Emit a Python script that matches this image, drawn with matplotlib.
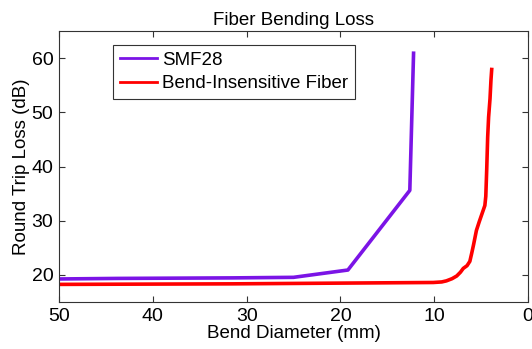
import matplotlib
matplotlib.use("Agg")
import matplotlib.pyplot as plt

# SMF28 standard fiber
smf_d = [50, 43.8, 31.5, 25.0, 19.2, 12.6, 12.2]
smf_loss = [19.25, 19.35, 19.45, 19.55, 20.9, 35.6, 60.9]

# bend-insensitive fiber
bif_d = [50, 31.5, 10.1, 9.2, 8.7, 8.1, 7.6, 7.2, 6.9, 6.5, 6.2, 6.0, 5.8,
         5.5, 5.2, 4.9, 4.6, 4.5, 4.4, 4.3, 4.2, 4.05, 3.95, 3.87]
bif_loss = [18.25, 18.35, 18.6, 18.7, 18.9, 19.3, 19.8, 20.5, 21.2, 21.7,
            22.5, 24.0, 25.6, 28.2, 29.8, 31.3, 32.8, 34.5, 39.5, 45.4,
            49.1, 52.5, 55.9, 57.9]

xticks = [50, 40, 30, 20, 10, 0]
yticks = [20, 30, 40, 50, 60]

plt.rcParams['font.family'] = ['Liberation Sans', 'DejaVu Sans']

fig = plt.figure(figsize=(5.32, 3.49), dpi=100)
ax = fig.add_axes([59 / 532, 1 - 302 / 349, 469 / 532, 271 / 349])

ax.plot(smf_d, smf_loss, color='#7b14e6', lw=2.6, label='SMF28')
ax.plot(bif_d, bif_loss, color='#ff0000', lw=2.6, label='Bend-Insensitive Fiber')

ax.set_xlim(50, 0)
ax.set_ylim(15, 65)
ax.set_xticks(xticks)
ax.set_yticks(yticks)
ax.tick_params(direction='in', length=4, labelsize=14, top=True, right=True,
               width=0.8, color='#333333', pad=4)
for s in ax.spines.values():
    s.set_linewidth(0.8)
    s.set_color('#333333')

ax.set_title('Fiber Bending Loss', fontsize=13.5, pad=4)
ax.set_xlabel('Bend Diameter (mm)', fontsize=13.5, labelpad=0)
ax.set_ylabel('Round Trip Loss (dB)', fontsize=13.5, labelpad=1)

leg = ax.legend(loc='upper left', bbox_to_anchor=(0.115, 0.948), fontsize=13.5,
                fancybox=False, framealpha=1, edgecolor='#333333',
                handlelength=2.0, handletextpad=0.25, borderpad=0.36,
                labelspacing=0.34, borderaxespad=0)
leg.get_frame().set_linewidth(0.8)
for ln in leg.get_lines():
    ln.set_linewidth(2.0)

fig.savefig('out.png', dpi=100)
